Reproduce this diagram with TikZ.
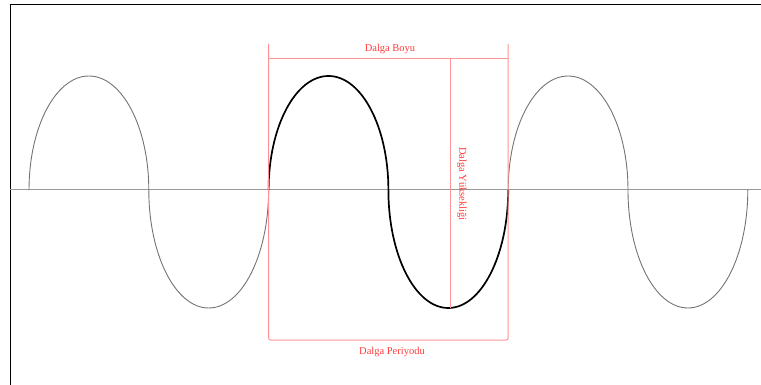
\documentclass[tikz,border=0pt]{standalone}
\usepackage{fontspec}
\setmainfont{Liberation Serif}
\definecolor{DalgaKirmizi}{HTML}{FF3B3B}

\begin{document}
\begin{tikzpicture}[x=1pt, y=-1pt,
        every node/.style={inner sep=1pt, text=DalgaKirmizi, font=\fontsize{10.5}{12}\selectfont},
        olcu/.style={draw=DalgaKirmizi!55, line width=1pt},
        dalga/.style={draw=black!55, line width=0.9pt},
        kalin/.style={draw=black, line width=1.7pt}]
        \useasboundingbox (0,0) rectangle (761,385);
        % frame and axis
        \draw[line width=1.3pt] (10.5,385) -- (10.5,4.5) -- (761,4.5);
        \draw[draw=black!40, line width=1pt] (10,190) -- (761,190);

        % waves
        \foreach \xs in {29, 508.2} {
            \draw[dalga] (\xs,190) arc[start angle=180, end angle=360, x radius=59.9, y radius=114]
                arc[start angle=180, end angle=0, x radius=59.9, y radius=118];
        }
        \draw[kalin] (268.6,190) arc[start angle=180, end angle=360, x radius=59.9, y radius=114]
            arc[start angle=180, end angle=0, x radius=59.9, y radius=118];

        % measures
        \draw[olcu, rounded corners=2pt] (268.6,44) -- (268.6,340) -- (508.2,340) -- (508.2,44);
        \draw[olcu] (268.6,58.5) -- (508.2,58.5);
        \draw[olcu] (450,58.5) -- (450,308);

        \node (boy) at (390,48.5) {Dalga Boyu};
        \node (periyot) at (392,352) {Dalga Periyodu};
        \node[rotate=-90] (yukseklik) at (462,184) {Dalga Yüksekliği};
    \end{tikzpicture}
\end{document}
